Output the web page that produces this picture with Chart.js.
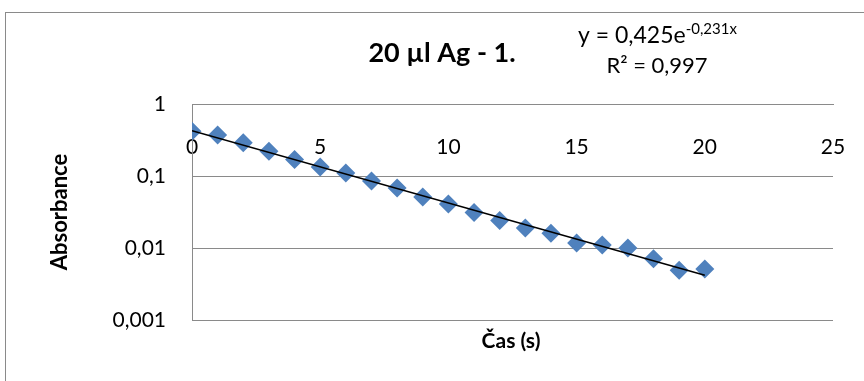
<!DOCTYPE html>
<html>
<head>
<meta charset="utf-8">
<script src="https://cdn.jsdelivr.net/npm/chart.js@4.4.1/dist/chart.umd.min.js"></script>
<style>
  html, body { margin: 0; padding: 0; background: #fff; }
  #wrap { width: 864px; height: 381px; position: relative; }
</style>
</head>
<body>
<div id="wrap"><canvas id="c" width="864" height="381"></canvas></div>
<script>
// time (s) and absorbance
const times = [0, 1, 2, 3, 4, 5, 6, 7, 8, 9, 10, 11, 12, 13, 14, 15, 16, 17, 18, 19, 20];
const absorbance = [0.42, 0.37, 0.29, 0.22, 0.17, 0.133, 0.11, 0.085, 0.068, 0.051, 0.041,
                    0.031, 0.024, 0.019, 0.016, 0.0117, 0.011, 0.010, 0.0071, 0.0049, 0.0051];
const xTicks = [0, 5, 10, 15, 20, 25];
const yTicks = [0.001, 0.01, 0.1, 1];

// exponential trendline as printed on the chart
const trendA = 0.425;
const trendB = -0.231;
const trendX = [0, 20];

const FONT = "Lato, 'Open Sans', sans-serif";
const GRID = '#8a8a8a';

const fmt = v => String(v).replace('.', ',');

const textPlugin = {
  id: 'texts',
  beforeDraw(chart) {
    const ctx = chart.ctx;
    ctx.save();
    ctx.fillStyle = '#fff';
    ctx.fillRect(0, 0, chart.width, chart.height);
    ctx.restore();
  },
  afterDraw(chart) {
    const ctx = chart.ctx;
    ctx.save();
    // outer frame
    ctx.strokeStyle = GRID;
    ctx.lineWidth = 1;
    ctx.strokeRect(5.5, 12.5, 900, 400);

    ctx.fillStyle = '#000';
    ctx.textBaseline = 'middle';
    ctx.textAlign = 'center';
    ctx.font = 'bold 27px ' + FONT;
    ctx.fillText('20 µl Ag - 1.', 442, 53);

    ctx.font = 'bold 21px ' + FONT;
    ctx.fillText('Čas (s)', 511, 341);

    ctx.save();
    ctx.translate(60, 212);
    ctx.rotate(-Math.PI / 2);
    ctx.font = 'bold 22px ' + FONT;
    ctx.fillText('Absorbance', 0, 0);
    ctx.restore();

    // trendline equation
    ctx.textAlign = 'left';
    ctx.font = '23px ' + FONT;
    const base = 'y = ' + fmt(trendA) + 'e';
    const sup = fmt(trendB) + 'x';
    ctx.fillText(base, 578, 36);
    const bw = ctx.measureText(base).width;
    ctx.font = '15px ' + FONT;
    ctx.fillText(sup, 578 + bw, 29);

    ctx.textAlign = 'center';
    ctx.font = '22px ' + FONT;
    ctx.fillText('R² = 0,997', 657, 66);
    ctx.restore();
  }
};

new Chart(document.getElementById('c'), {
  type: 'scatter',
  data: {
    datasets: [
      {
        label: 'trend',
        type: 'line',
        data: trendX.map(x => ({ x: x, y: trendA * Math.exp(trendB * x) })),
        borderColor: '#000',
        borderWidth: 1.6,
        pointRadius: 0,
        fill: false,
        order: 0
      },
      {
        label: 'Absorbance',
        data: times.map((t, i) => ({ x: t, y: absorbance[i] })),
        pointStyle: 'rectRot',
        pointRadius: 9.5,
        pointHoverRadius: 9.5,
        backgroundColor: '#4f81bd',
        borderColor: '#4f81bd',
        borderWidth: 0,
        order: 1
      }
    ]
  },
  options: {
    responsive: false,
    animation: false,
    events: [],
    layout: { padding: { top: 104, right: 31, bottom: 61, left: 0 } },
    plugins: { legend: { display: false }, tooltip: { enabled: false } },
    scales: {
      x: {
        type: 'linear',
        position: 'top',
        min: 0,
        max: 25,
        afterBuildTicks: s => { s.ticks = xTicks.map(v => ({ value: v })); },
        afterFit: s => { s.height = 0; s.paddingLeft = 0; s.paddingRight = 0; },
        grid: { display: false, drawTicks: false },
        border: { color: GRID, width: 1 },
        ticks: {
          mirror: true,
          padding: 31,
          color: '#000',
          font: { family: FONT, size: 21 },
          callback: v => fmt(v)
        }
      },
      y: {
        type: 'logarithmic',
        min: 0.001,
        max: 1,
        afterBuildTicks: s => { s.ticks = yTicks.map(v => ({ value: v })); },
        afterFit: s => { s.width = 192; },
        grid: { color: GRID, lineWidth: 1, drawTicks: false },
        border: { color: GRID, width: 1 },
        ticks: {
          padding: 26,
          color: '#000',
          font: { family: FONT, size: 21 },
          callback: v => fmt(v)
        }
      }
    }
  },
  plugins: [textPlugin]
});
</script>
</body>
</html>
